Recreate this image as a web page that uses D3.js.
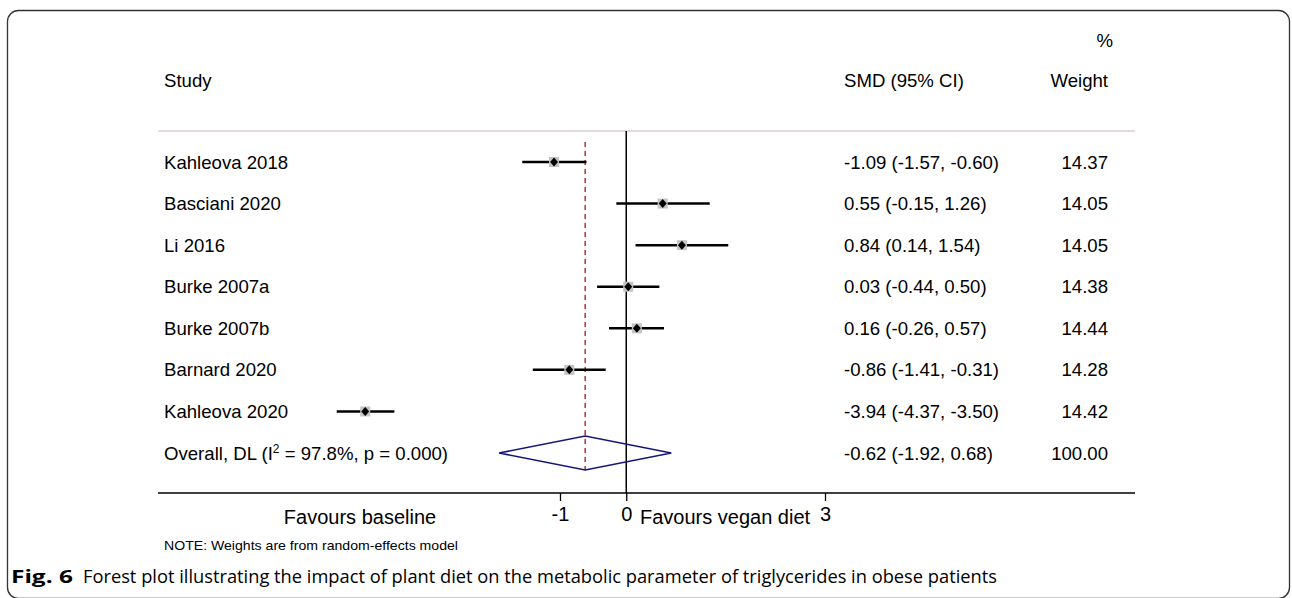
<!DOCTYPE html>
<html>
<head>
	<meta charset="utf-8">
	<title>Forest plot</title>
	<style>
	body { margin: 0; background: #fff; }
	svg text { font-family: "Liberation Sans", Arial, sans-serif; fill: #000; }
	</style>
	<script type="text/javascript" src="https://cdn.jsdelivr.net/npm/d3@7/dist/d3.min.js"></script>
</head>
<body>
	<script type="text/javascript">

		// data
		let studies = ['Kahleova 2018', 'Basciani 2020', 'Li 2016', 'Burke 2007a', 'Burke 2007b', 'Barnard 2020', 'Kahleova 2020'];
		let smd = [-1.09, 0.55, 0.84, 0.03, 0.16, -0.86, -3.94];
		let lower = [-1.57, -0.15, 0.14, -0.44, -0.26, -1.41, -4.37];
		let upper = [-0.60, 1.26, 1.54, 0.50, 0.57, -0.31, -3.50];
		let weights = [14.37, 14.05, 14.05, 14.38, 14.44, 14.28, 14.42];
		let overallEst = -0.62, overallLo = -1.92, overallHi = 0.68, overallWeight = 100.00;
		let tickValues = [-1, 0, 3];

		let W = 1292, H = 598;
		let svg = d3.select('body').append('svg')
					.attr('width', W).attr('height', H);

		// frame
		svg.append('rect').attr('x', 7.5).attr('y', 10.5)
			.attr('width', 1282).attr('height', 588)
			.attr('rx', 11).attr('ry', 11)
			.attr('fill', 'none').attr('stroke', '#333').attr('stroke-width', 1.3);

		let xScale = d3.scaleLinear().domain([-1, 3]).range([560, 825]);
		let rows = d3.range(studies.length + 1);
		let yScale = d3.scalePoint().domain(rows).range([162, 453]);

		let left = 158, right = 1135, axisY = 493, topLine = 131;
		let fs = '18.6px';

		// plain hyphen minus, as in the original
		function fmt(v) { return (+v).toFixed(2); }

		// header
		svg.append('text').text('Study').attr('x', 164).attr('y', 80).attr('dy', '0.35em').style('font-size', fs);
		svg.append('text').text('SMD (95% CI)').attr('x', 844).attr('y', 80).attr('dy', '0.35em').style('font-size', fs);
		svg.append('text').text('Weight').attr('x', 1108).attr('y', 80).attr('dy', '0.35em').style('font-size', fs).style('text-anchor', 'end');
		svg.append('text').text('%').attr('x', 1113).attr('y', 40).attr('dy', '0.35em').style('font-size', fs).style('text-anchor', 'end');

		svg.append('line').attr('x1', left).attr('x2', right).attr('y1', topLine).attr('y2', topLine)
			.attr('stroke', '#d8cfcc').attr('stroke-width', 1.6);

		// zero line
		svg.append('line').attr('x1', xScale(0)).attr('x2', xScale(0)).attr('y1', topLine).attr('y2', axisY)
			.attr('stroke', '#000').attr('stroke-width', 1.5);

		// overall dashed line
		svg.append('line').attr('x1', xScale(overallEst)).attr('x2', xScale(overallEst))
			.attr('y1', 142).attr('y2', yScale(7) + 17)
			.attr('stroke', '#b2323f').attr('stroke-width', 1.5).attr('stroke-dasharray', '5,4');

		// CI lines
		svg.selectAll('line.ci').data(studies).enter().append('line').attr('class', 'ci')
			.attr('x1', function(d, i) { return xScale(lower[i]); })
			.attr('x2', function(d, i) { return xScale(upper[i]); })
			.attr('y1', function(d, i) { return yScale(i); })
			.attr('y2', function(d, i) { return yScale(i); })
			.attr('stroke', '#000').attr('stroke-width', 2.5);

		// weight boxes
		svg.selectAll('rect.box').data(studies).enter().append('rect').attr('class', 'box')
			.attr('x', function(d, i) { return xScale(smd[i]) - 5; })
			.attr('y', function(d, i) { return yScale(i) - 5; })
			.attr('width', 10).attr('height', 10)
			.attr('fill', '#c6c3c3');

		// point estimate diamonds
		svg.selectAll('path.pt').data(studies).enter().append('path').attr('class', 'pt')
			.attr('d', function(d, i) {
				let x = xScale(smd[i]), y = yScale(i);
				return 'M' + (x - 4) + ',' + y + 'L' + x + ',' + (y - 4.5) + 'L' + (x + 4) + ',' + y + 'L' + x + ',' + (y + 4.5) + 'Z';
			})
			.attr('fill', '#000');

		// overall diamond
		let oy = yScale(7);
		svg.append('path')
			.attr('d', 'M' + xScale(overallLo) + ',' + oy + 'L' + xScale(overallEst) + ',' + (oy - 17) +
				'L' + xScale(overallHi) + ',' + oy + 'L' + xScale(overallEst) + ',' + (oy + 17) + 'Z')
			.attr('fill', 'none').attr('stroke', '#16167a').attr('stroke-width', 1.6);

		// row texts
		studies.forEach(function(s, i) {
			svg.append('text').text(s).attr('x', 164).attr('y', yScale(i)).attr('dy', '0.35em').style('font-size', fs);
			svg.append('text').text(fmt(smd[i]) + ' (' + fmt(lower[i]) + ', ' + fmt(upper[i]) + ')')
				.attr('x', 844).attr('y', yScale(i)).attr('dy', '0.35em').style('font-size', fs);
			svg.append('text').text(fmt(weights[i])).attr('x', 1108).attr('y', yScale(i)).attr('dy', '0.35em')
				.style('font-size', fs).style('text-anchor', 'end');
		});

		let ov = svg.append('text').attr('x', 164).attr('y', oy + 6.5).style('font-size', fs);
		ov.append('tspan').text('Overall, DL (I');
		ov.append('tspan').text('2').attr('dy', -7).style('font-size', '12px');
		ov.append('tspan').text(' = 97.8%, p = 0.000)').attr('dy', 7);
		svg.append('text').text(fmt(overallEst) + ' (' + fmt(overallLo) + ', ' + fmt(overallHi) + ')')
			.attr('x', 844).attr('y', oy).attr('dy', '0.35em').style('font-size', fs);
		svg.append('text').text(fmt(overallWeight)).attr('x', 1108).attr('y', oy).attr('dy', '0.35em')
			.style('font-size', fs).style('text-anchor', 'end');

		// x axis
		svg.append('line').attr('x1', left).attr('x2', right).attr('y1', axisY).attr('y2', axisY)
			.attr('stroke', '#000').attr('stroke-width', 1.5);
		let xAxis = d3.axisBottom(xScale).tickValues(tickValues).tickSize(8).tickPadding(6)
						.tickFormat(function(d) { return String(d); });
		let bAxis = svg.append('g').attr('transform', 'translate(0,' + axisY + ')').call(xAxis);
		bAxis.select('.domain').remove();
		bAxis.selectAll('line').attr('stroke', '#000').attr('stroke-width', 1.3);
		bAxis.selectAll('text').style('font-size', '20px').attr('font-family', null).attr('fill', '#000');

		svg.append('text').text('Favours baseline').attr('x', 360).attr('y', 517).attr('dy', '0.35em')
			.style('font-size', '20px').style('text-anchor', 'middle');
		svg.append('text').text('Favours vegan diet').attr('x', 640).attr('y', 517).attr('dy', '0.35em')
			.style('font-size', '20px');

		// note & caption
		svg.append('text').text('NOTE: Weights are from random-effects model').attr('x', 164).attr('y', 545).attr('dy', '0.35em')
			.style('font-family', '"Liberation Sans Narrow", "Liberation Sans", Arial, sans-serif').style('font-size', '13px')
			.attr('textLength', 294).attr('lengthAdjust', 'spacingAndGlyphs');

		svg.append('text').text('Fig. 6').attr('x', 11).attr('y', 577).attr('dy', '0.35em')
			.style('font-family', '"Open Sans", "Noto Sans", sans-serif').style('font-size', '18px').style('font-weight', 'bold')
			.attr('textLength', 62).attr('lengthAdjust', 'spacingAndGlyphs');
		svg.append('text').text('Forest plot illustrating the impact of plant diet on the metabolic parameter of triglycerides in obese patients')
			.attr('x', 83).attr('y', 577).attr('dy', '0.35em')
			.style('font-family', '"Open Sans", "Noto Sans", sans-serif').style('font-size', '18px')
			.attr('textLength', 914).attr('lengthAdjust', 'spacingAndGlyphs');

	</script>
</body>
</html>
